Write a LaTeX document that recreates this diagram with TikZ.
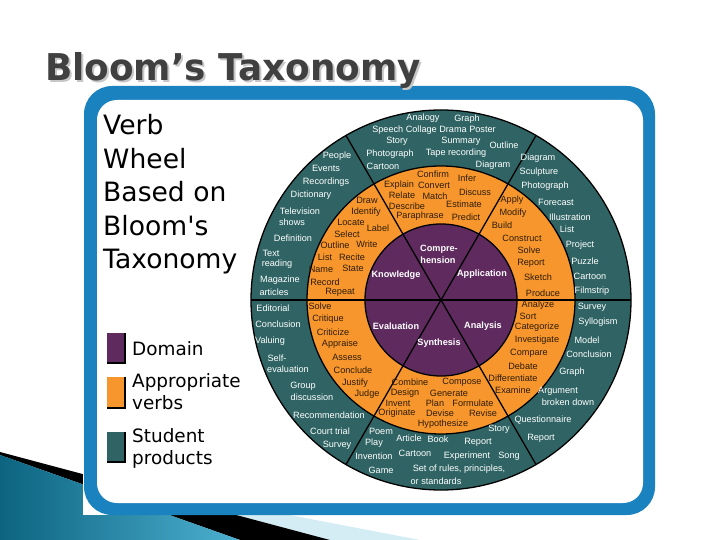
\documentclass[tikz,border=0pt]{standalone}
\usepackage{fontspec}
\setmainfont{DejaVu Sans}
\newfontfamily\wheelfont{Liberation Sans}
\usepackage{xcolor}
\definecolor{bmTeal}{HTML}{306464}
\definecolor{bmOrange}{HTML}{F7962D}
\definecolor{bmPurple}{HTML}{5F2B5F}
\definecolor{bmFrame}{HTML}{1B82C0}
\definecolor{bmTitle}{HTML}{404040}
\definecolor{bmVerb}{HTML}{2E1C0A}
\definecolor{bmDeco}{HTML}{0C6480}
\definecolor{bmDecoLt}{HTML}{4DB0D0}
\definecolor{bmMist}{HTML}{D4ECF4}
\tikzset{
  wtxt/.style={inner sep=0pt, font=\wheelfont\fontsize{7.8}{8}\selectfont},
  prd/.style={wtxt, text=white},
  vrb/.style={wtxt, text=bmVerb},
  dom/.style={wtxt, text=white, font=\wheelfont\bfseries\fontsize{7.8}{8}\selectfont},
  ring/.style={draw=black, line width=1.1pt},
  bigtxt/.style={anchor=base west, inner sep=0pt, font=\fontsize{22.7}{26}\selectfont},
  legtxt/.style={anchor=base west, inner sep=0pt, font=\fontsize{15.7}{18}\selectfont},
  ttl/.style={anchor=base west, inner sep=0pt, xscale=0.97, font=\bfseries\fontsize{31.5}{34}\selectfont},
}
\begin{document}
\begin{tikzpicture}[x=0.03cm, y=-0.03cm]
    \useasboundingbox (0,0) rectangle (720,540);
    % ---------- corner decoration ----------
    \fill[bmMist] (100,478.7) -- (420,540) -- (330,540) -- cycle;
    \fill[black] (0,452) -- (330,540) -- (240,540) -- (0,455) -- cycle;
    \shade[left color=bmDeco, right color=bmDecoLt] (0,455) -- (240,540) -- (0,540) -- cycle;
    % ---------- frame ----------
    \fill[white] (83,86) rectangle (655,515);
    \fill[bmFrame, rounded corners=24pt] (84,86) rectangle (655,515);
    \fill[white, rounded corners=17pt] (97,100) rectangle (643,503);
    % ---------- title ----------
    \node[ttl, text=black!22] (ttlS) at (47,83) {Bloom’s Taxonomy};
    \node[ttl, text=bmTitle] (ttlT) at (45,81) {Bloom’s Taxonomy};
    % ---------- caption ----------
    \foreach \t [count=\i] in {Verb, Wheel, Based on, Bloom\textquotesingle s, Taxonomy}
        \node[bigtxt] (cap\i) at (103,101.5+33.5*\i) {\t};
    % ---------- legend ----------
    \foreach \c/\ya/\yb [count=\i] in {bmPurple/333/363, bmOrange/377/408, bmTeal/432/462} {
        \fill[\c] (107,\ya) rectangle (125,\yb);
        \draw[black, line width=1.2pt] (125,\ya) -- (125,\yb) -- (107,\yb);
    }
    \foreach \y/\t [count=\i] in {356/Domain, 388/Appropriate, 410/verbs, 442/Student, 464/products}
        \node[legtxt] (key\i) at (132,\y) {\t};
    % ---------- wheel ----------
    \coordinate (ctr) at (441,300);
    \fill[bmTeal] (ctr) circle (5.7cm);
    \fill[bmOrange] (ctr) circle (4.02cm);
    \fill[bmPurple] (ctr) circle (2.28cm);
    \foreach \r in {5.7,4.02,2.28} \draw[ring] (ctr) circle (\r cm);
    \foreach \a in {0,60,120} \draw[ring] (ctr) ++(\a:5.7cm) -- ++(\a+180:11.4cm);
    % domains
    \foreach \x/\y/\t [count=\i] in {439/249/Compre-, 438/260/hension, 396/275/Knowledge,
        482/274/Application, 396/326/Evaluation, 483/326/Analysis, 439/343/Synthesis}
        \node[dom] (d\i) at (\x,\y) {\t};
    % verbs
    \foreach \x/\y/\t [count=\i] in {
        367/200/Draw, 366/212/Identify, 351/222/Locate, 378/228/Label, 347/234/Select,
        335/245/Outline, 367/244/Write, 325/257/List, 352/257/Recite, 321/269/Name,
        353/268/State, 325/282/Record, 340/292/Repeat,
        433/174/Confirm, 467/178/Infer, 399/185/Explain, 434/185/Convert, 475/192/Discuss,
        402/195/Relate, 435/196/Match, 407/206/Describe, 464/204/Estimate,
        420/216/Paraphrase, 466/217/Predict,
        512/200/Apply, 513/213/Modify, 502/225/Build, 522/238/Construct, 529/250/Solve,
        531/263/Report, 538/277/Sketch, 543/293/Produce,
        538/305/Analyze, 528/316/Sort, 537/327/Categorize, 537/340/Investigate,
        529/353/Compare, 523/366/Debate, 513/378/Differentiate, 513/390/Examine,
        410/382/Combine, 462/382/Compose, 405/393/Design, 449/393/Generate, 398/403/Invent,
        435/403/Plan, 473/403/Formulate, 397/413/Originate, 440/413/Devise, 483/413/Revise,
        443/424/Hypothesize,
        320/306/Solve, 328/319/Critique, 333/332/Criticize, 340/344/Appraise,
        347/357/Assess, 353/370/Conclude, 355/383/Justify, 367/394/Judge}
        \node[vrb] (v\i) at (\x,\y) {\t};
    % products
    \foreach \x/\y/\t [count=\i] in {
        423/118/Analogy, 467/119/Graph, 434/130/Speech Collage Drama Poster, 397/141/Story,
        461/141/Summary, 504/145/Outline, 390/154/Photograph, 456/153/Tape recording,
        383/166/Cartoon, 493/165/Diagram,
        337/156/People, 326/168/Events, 326/182/Recordings, 311/195/Dictionary,
        300/211/Television, 292/222/shows, 293/238/Definition, 271/253/Text,
        277/264/reading, 280/280/Magazine, 274/292/articles,
        273/308/Editorial, 278/324/Conclusion, 270/341/Valuing, 277/358/Self-,
        288/369/evaluation, 303/386/Group, 312/397/discussion, 329/415/Recommendation,
        330/431/Court trial, 337/445/Survey,
        381/431/Poem, 374/443/Play, 374/456/Invention, 381/470/Game, 409/438/Article,
        438/439/Book, 415/453/Cartoon, 478/442/Report, 499/429/Story, 467/456/Experiment,
        509/456/Song, 459/469/{Set of rules, principles,}, 436/481/or standards,
        592/307/Survey, 598/322/Syllogism, 587/340/Model, 589/354/Conclusion,
        572/372/Graph, 558/391/Argument, 568/402/broken down, 543/420/Questionnaire,
        541/438/Report,
        538/158/Diagram, 539/172/Sculpture, 545/186/Photograph, 556/202/Forecast,
        570/217/Illustration, 567/229/List, 580/245/Project, 585/261/Puzzle,
        590/276/Cartoon, 592/291/Filmstrip}
        \node[prd] (p\i) at (\x,\y) {\t};
\end{tikzpicture}
\end{document}
